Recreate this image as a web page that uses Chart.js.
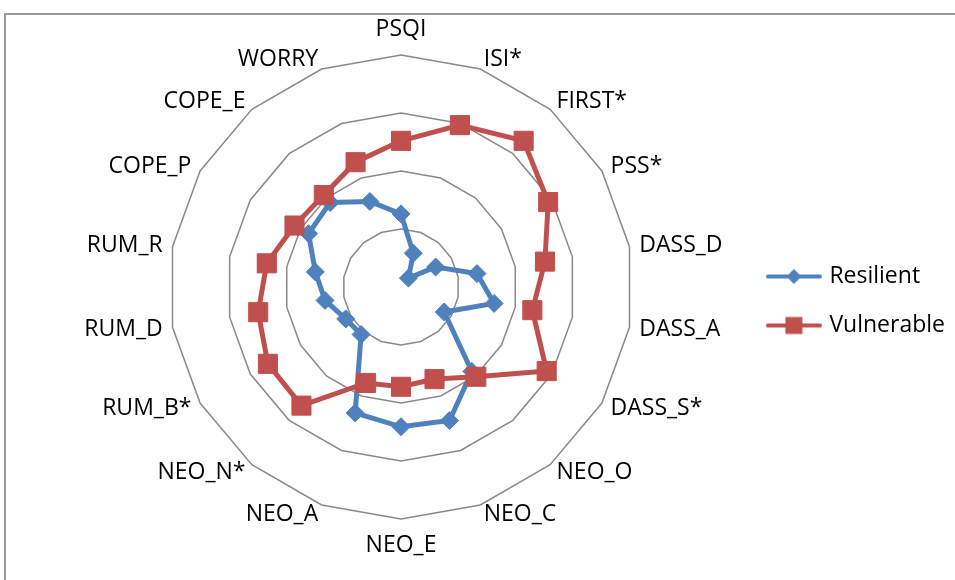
<!DOCTYPE html>
<html>
<head>
<meta charset="utf-8">
<script src="https://cdn.jsdelivr.net/npm/chart.js@4.4.1/dist/chart.umd.min.js"></script>
<style>
  html, body { margin: 0; padding: 0; background: #fff; }
  #wrap { position: relative; width: 955px; height: 580px; overflow: hidden; }
  #frame { position: absolute; left: 4px; top: 13px; width: 1000px; height: 1000px;
           border-left: 2px solid #9a9a9a; border-top: 2px solid #9a9a9a; }
  #chart { position: absolute; left: 0; top: 0; }
</style>
</head>
<body>
<div id="wrap">
  <div id="frame"></div>
  <canvas id="chart" width="955" height="580"></canvas>
</div>
<script>
const categories = ['PSQI', 'ISI*', 'FIRST*', 'PSS*', 'DASS_D', 'DASS_A', 'DASS_S*',
  'NEO_O', 'NEO_C', 'NEO_E', 'NEO_A', 'NEO_N*', 'RUM_B*', 'RUM_D', 'RUM_R',
  'COPE_P', 'COPE_E', 'WORRY'];
const resilient = [1.26, 0.62, 0.2, 0.69, 1.33, 1.63, 0.86, 1.9, 2.45, 2.41, 2.31,
  1.07, 1.1, 1.33, 1.5, 1.84, 1.9, 1.57];
const vulnerable = [2.52, 2.97, 3.29, 2.93, 2.52, 2.3, 2.9, 2.02, 1.69, 1.72, 1.76,
  2.67, 2.65, 2.5, 2.35, 2.12, 2.07, 2.29];
const seriesNames = ['Resilient', 'Vulnerable'];

const BLUE = '#4F81BD';
const RED = '#C0504D';
const FONT = '"Open Sans", "Noto Sans", sans-serif';

// legend swatch: a short line with the marker in the middle
function swatch(color, marker) {
  const c = document.createElement('canvas');
  c.width = 56; c.height = 20;
  const g = c.getContext('2d');
  g.strokeStyle = color;
  g.lineWidth = 4;
  g.lineCap = 'round';
  g.beginPath(); g.moveTo(2, 10); g.lineTo(54, 10); g.stroke();
  g.fillStyle = color;
  g.beginPath();
  if (marker === 'diamond') {
    g.moveTo(28, 2.5); g.lineTo(35.5, 10); g.lineTo(28, 17.5); g.lineTo(20.5, 10);
  } else {
    g.rect(19.5, 1.5, 17, 17);
  }
  g.closePath(); g.fill();
  return c;
}
const swatches = [swatch(BLUE, 'diamond'), swatch(RED, 'square')];

// category names around the web
const axisLabels = {
  id: 'axisLabels',
  afterDatasetsDraw(chart) {
    const scale = chart.scales.r;
    const ctx = chart.ctx;
    ctx.save();
    ctx.font = '23px ' + FONT;
    ctx.fillStyle = '#000';
    ctx.textBaseline = 'middle';
    categories.forEach((label, i) => {
      const deg = Math.round(scale.getIndexAngle(i) * 180 / Math.PI) % 360;
      const pos = scale.getPointPosition(i, scale.drawingArea + 10);
      let y = pos.y;
      if (deg === 0) { ctx.textAlign = 'center'; y -= 16; }
      else if (deg === 180) { ctx.textAlign = 'center'; y += 16; }
      else ctx.textAlign = deg < 180 ? 'left' : 'right';
      ctx.fillText(label, pos.x, y);
    });
    ctx.restore();
  }
};

new Chart(document.getElementById('chart'), {
  type: 'radar',
  data: {
    labels: categories,
    datasets: [
      {
        label: seriesNames[0],
        data: resilient,
        order: 1,
        borderColor: BLUE,
        backgroundColor: BLUE,
        borderWidth: 5,
        fill: false,
        pointStyle: 'rectRot',
        pointRadius: 9,
        pointBorderWidth: 1,
        pointBackgroundColor: BLUE,
        pointBorderColor: BLUE
      },
      {
        label: seriesNames[1],
        data: vulnerable,
        order: 0,
        borderColor: RED,
        backgroundColor: RED,
        borderWidth: 5,
        fill: false,
        pointStyle: 'rect',
        pointRadius: 13.5,
        pointBorderWidth: 1,
        pointBackgroundColor: RED,
        pointBorderColor: RED
      }
    ]
  },
  options: {
    responsive: false,
    animation: false,
    layout: { padding: { left: 59, right: 0, top: 55, bottom: 61 } },
    scales: {
      r: {
        min: 0,
        max: 4,
        ticks: { stepSize: 1, display: false },
        grid: { color: '#8a8a8a', lineWidth: 1.5 },
        angleLines: { display: false },
        pointLabels: { display: false }
      }
    },
    plugins: {
      tooltip: { enabled: false },
      legend: {
        position: 'right',
        title: { display: true, text: '', font: { size: 10, lineHeight: 1 }, padding: 9 },
        labels: {
          usePointStyle: true,
          pointStyleWidth: 48,
          padding: 26,
          color: '#000',
          font: { family: FONT, size: 23 },
          sort: (a, b) => a.datasetIndex - b.datasetIndex,
          generateLabels(chart) {
            const items = Chart.defaults.plugins.legend.labels.generateLabels(chart);
            items.forEach(it => { it.pointStyle = swatches[it.datasetIndex]; });
            return items;
          }
        }
      }
    }
  },
  plugins: [axisLabels]
});
</script>
</body>
</html>
